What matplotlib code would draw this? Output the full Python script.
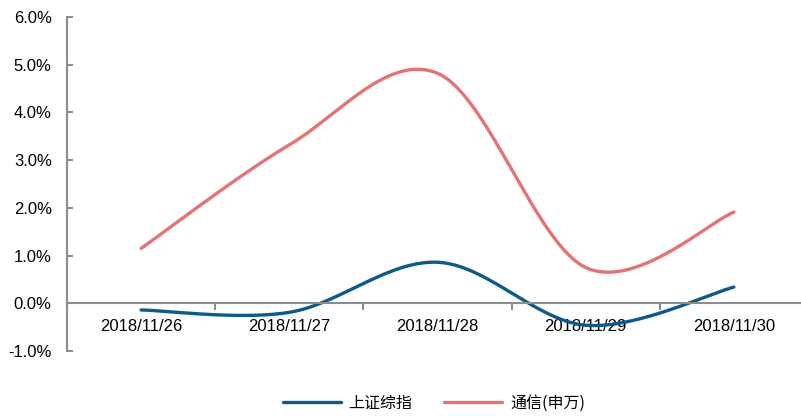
import numpy as np
import matplotlib
matplotlib.use("Agg")
import matplotlib.pyplot as plt
from matplotlib.ticker import FuncFormatter, FixedLocator

plt.rcParams['font.family'] = ['Liberation Sans', 'Noto Sans CJK SC', 'DejaVu Sans']

dates = ["2018/11/26", "2018/11/27", "2018/11/28", "2018/11/29", "2018/11/30"]
sse_composite = [-0.14, -0.19, 0.86, -0.46, 0.34]     # 上证综指, %
telecom_sw = [1.15, 3.32, 4.82, 0.75, 1.91]           # 通信(申万), %

BLUE = "#0B5A8A"
RED = "#E57373"
GRAY = "#8C8C8C"


def smooth(xs, ys, n=60):
    """Catmull-Rom style cubic Bezier through every point."""
    p = np.column_stack([xs, ys]).astype(float)
    pts = np.vstack([p[0], p, p[-1]])
    out = []
    for i in range(1, len(pts) - 2):
        p0, p1, p2, p3 = pts[i - 1], pts[i], pts[i + 1], pts[i + 2]
        c1 = p1 + (p2 - p0) / 6.0
        c2 = p2 - (p3 - p1) / 6.0
        t = np.linspace(0, 1, n)[:, None]
        seg = ((1 - t) ** 3) * p1 + 3 * ((1 - t) ** 2) * t * c1 \
            + 3 * (1 - t) * t ** 2 * c2 + t ** 3 * p2
        out.append(seg if i == 1 else seg[1:])
    s = np.vstack(out)
    return s[:, 0], s[:, 1]


fig = plt.figure(figsize=(8.01, 4.17), dpi=100)
ax = fig.add_axes([67 / 801, 66 / 417, (808 - 67) / 801, (400 - 66) / 417])

x = np.arange(len(dates))
for vals, color, label in [(sse_composite, BLUE, "上证综指"),
                           (telecom_sw, RED, "通信(申万)")]:
    sx, sy = smooth(x, vals)
    ax.plot(sx, sy, color=color, lw=2.4, label=label, solid_capstyle='round')

ax.set_xlim(-0.5, len(dates) - 0.5)
ax.set_ylim(-1, 6)
ax.set_yticks(np.arange(-1, 7, 1))
ax.yaxis.set_major_formatter(FuncFormatter(lambda v, _: f"{v:.1f}%"))

for side in ("top", "right"):
    ax.spines[side].set_visible(False)
ax.spines['bottom'].set_position(('data', 0))
for side in ("left", "bottom"):
    ax.spines[side].set_color(GRAY)
    ax.spines[side].set_linewidth(1.5)

ax.tick_params(axis='y', direction='in', length=4, width=1.5, color=GRAY,
               labelsize=12, labelcolor='black', pad=11)
ax.xaxis.set_major_locator(FixedLocator(np.arange(-0.5, len(dates), 1.0)))
ax.xaxis.set_minor_locator(FixedLocator(x))
ax.xaxis.set_major_formatter(FuncFormatter(lambda v, _: ""))
ax.set_xticklabels(dates, minor=True)
ax.tick_params(axis='x', which='major', direction='out', length=5, width=1.5,
               color=GRAY)
ax.tick_params(axis='x', which='minor', length=0, labelsize=12, pad=11)

leg = ax.legend(loc='center', bbox_to_anchor=(434 / 801, 14 / 417),
                bbox_transform=fig.transFigure, ncol=2, frameon=False,
                prop={'family': ['Noto Sans CJK SC'], 'size': 11.5},
                handlelength=3.6, columnspacing=2.0, handletextpad=0.5)

fig.savefig("out.png", dpi=100)
